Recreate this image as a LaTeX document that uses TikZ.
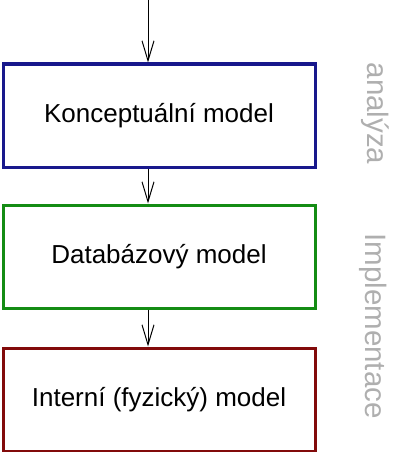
\documentclass[tikz,border=0pt]{standalone}
\usepackage{fontspec}
\setmainfont{Liberation Sans}
\usetikzlibrary{arrows.meta,positioning}
\definecolor{modra}{RGB}{24,24,140}
\definecolor{zelena}{RGB}{20,140,20}
\definecolor{cervena}{RGB}{130,10,10}
\definecolor{seda}{RGB}{175,175,175}
\tikzset{
  model/.style = {rectangle, draw, line width=3pt, inner sep=0pt,
    minimum width=312pt, minimum height=103pt,
    font=\fontsize{26}{30}\selectfont},
  mdl_b/.style = {model, draw=modra},% model, modry ramecek
  mdl_g/.style = {model, draw=zelena},% model, zeleny ramecek
  mdl_r/.style = {model, draw=cervena},% model, cerveny ramecek
  faze/.style = {rotate=-90, text=seda, inner sep=0pt,
    font=\fontsize{29.5}{34}\selectfont}% popisek faze
}
\begin{document}
\begin{tikzpicture}[>={Straight Barb[length=20pt,width=12pt]}, line width=1pt]
        \useasboundingbox (0,0) rectangle (400pt,-452pt);
        \node [mdl_b] (K) at (159pt,-115.5pt) {Konceptuální model};
        \node [mdl_g, below=35pt of K] (D) {Databázový model};
        \node [mdl_r, below=37pt of D] (I) {Interní (fyzický) model};
        \coordinate (vstup) at (148pt,0);
        \draw [->] (vstup) -- (vstup |- K.north);
        \draw [->] (vstup |- K.south) -- (vstup |- D.north);
        \draw [->] (vstup |- D.south) -- (vstup |- I.north);
        \node [faze] (A) at (375pt,-113.5pt) {analýza};
        \node [faze] (M) at (373pt,-326pt) {Implementace};
\end{tikzpicture}
\end{document}
